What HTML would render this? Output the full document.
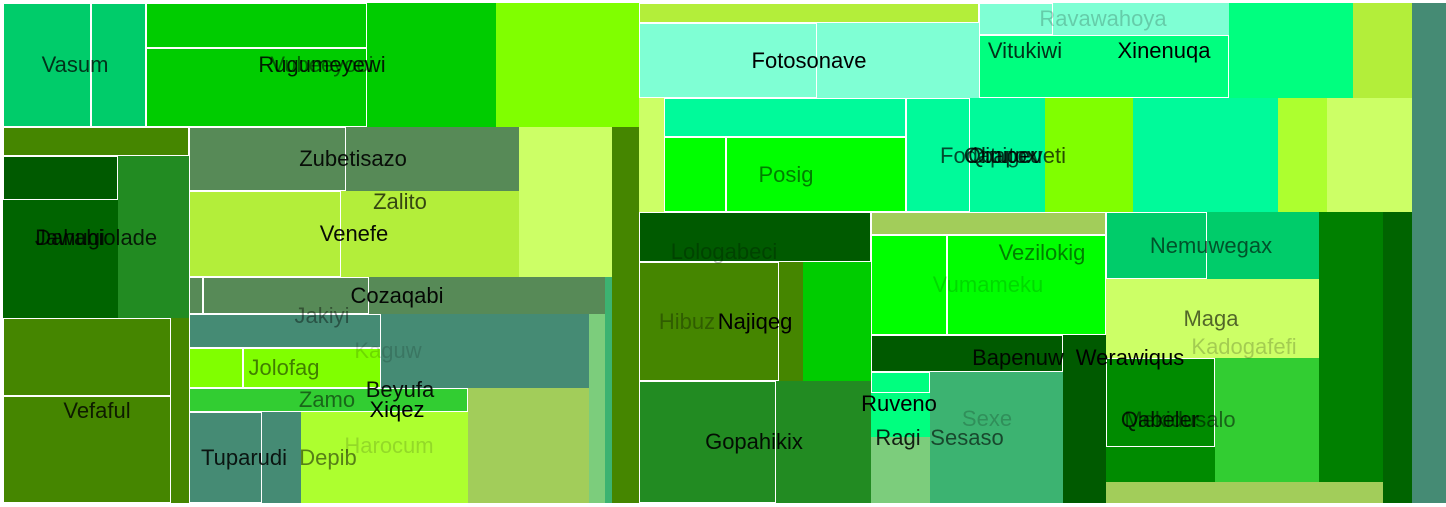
<!DOCTYPE html>
<html><head><meta charset="utf-8"><style>
html,body{margin:0;padding:0;background:#fff;width:1446px;height:507px;overflow:hidden}
#c{position:relative;width:1446px;height:507px}
.r{position:absolute;box-sizing:border-box}
.b{border:1px solid #fff}
.t{position:absolute;font:22px "Liberation Sans",sans-serif;white-space:nowrap;transform:translate(-50%,-50%);line-height:1}
</style></head><body>
<div id="c"></div>
<script>
const rects=[
[3,3,91,127,'#00cc6a',1],[91,3,146,127,'#00cc6a',1],
[146,3,367,48,'#00cc00',1],[146,48,367,127,'#00cc00',1],[367,3,496,127,'#00cc00',0],[496,3,640,127,'#80ff00',0],
[3,127,189,156,'#458600',1],[3,156,118,200,'#005a00',1],[3,200,118,318,'#006400',0],[118,156,189,318,'#228b22',0],
[189,127,346,191,'#578a57',1],[346,127,519,191,'#578a57',0],
[189,191,341,277,'#b3ee3a',1],[341,191,519,277,'#b3ee3a',0],[519,127,612,277,'#ccff66',0],[612,127,640,503,'#458600',0],
[3,318,171,396,'#458600',1],[3,396,171,503,'#458600',1],[171,318,189,503,'#458600',0],
[189,277,203,314,'#578a57',1],[203,277,369,314,'#578a57',1],[369,277,605,314,'#578a57',0],[605,277,612,503,'#3cb371',0],
[189,314,381,348,'#458b74',1],[381,314,589,388,'#458b74',0],[589,314,605,503,'#7ccd7c',0],
[189,348,243,388,'#80ff00',1],[243,348,381,388,'#80ff00',1],
[189,388,468,412,'#32cd32',1],
[189,412,262,503,'#458b74',1],[262,412,301,503,'#458b74',0],[301,412,468,503,'#adff2f',0],[468,388,589,503,'#a2cd5a',0],
[639,3,979,23,'#b3ee3a',1],[639,23,817,98,'#7fffd4',1],[817,23,979,98,'#7fffd4',0],
[979,3,1053,35,'#7fffd4',1],[1053,3,1229,35,'#7fffd4',0],[979,35,1229,98,'#00ff7f',1],[1229,3,1353,98,'#00ff7f',0],[1353,3,1412,98,'#b3ee3a',0],[1412,3,1446,503,'#458b74',0],
[639,98,664,212,'#ccff66',0],[664,98,906,137,'#00fa9a',1],[664,137,726,212,'#00ff00',1],[726,137,906,212,'#00ff00',1],
[906,98,970,212,'#00fa9a',1],[970,98,1045,212,'#00fa9a',0],[1045,98,1133,212,'#80ff00',0],[1133,98,1278,212,'#00fa9a',0],[1278,98,1327,212,'#adff2f',0],[1327,98,1412,212,'#ccff66',0],
[639,212,871,262,'#005a00',1],[871,212,1106,235,'#a2cd5a',1],[871,235,947,335,'#00ff00',1],[947,235,1106,335,'#00ff00',1],
[1106,212,1207,279,'#00cc6a',1],[1207,212,1319,279,'#00cc6a',0],[1319,212,1383,482,'#008000',0],[1383,212,1412,503,'#006400',0],
[639,262,779,381,'#458600',1],[779,262,803,381,'#458600',0],[803,262,871,381,'#00cc00',0],
[639,381,776,503,'#228b22',1],[776,381,871,503,'#228b22',0],
[871,335,1063,372,'#005a00',1],[1063,335,1106,503,'#005a00',0],
[871,372,930,393,'#00ff7f',1],[871,393,930,437,'#00ff7f',0],[871,437,930,503,'#7ccd7c',0],[930,372,1063,503,'#3cb371',0],
[1106,279,1167,358,'#ccff66',0],[1167,279,1319,358,'#ccff66',0],
[1106,358,1215,447,'#008b00',1],[1106,447,1215,482,'#008b00',0],[1215,358,1319,482,'#32cd32',0],[1106,482,1383,503,'#a2cd5a',0]
];
const labels=[
['Vasum',75,65,.75],['Vubeeyooi',322,65,.5],['Rugumeyewi',322,65,.85],['Zubetisazo',353,159,.9],['Zalito',400,202,.7],['Venefe',354,234,.95],
['Jawahiolade',96,238,.8],['Dahugi',70,238,.8],['Cozaqabi',397,296,.95],['Jakiyi',322,316,.4],['Kaguw',388,351,.15],['Jolofag',284,368,.5],
['Beyufa',400,390,.9],['Zamo',327,400,.5],['Xiqez',397,410,1],['Vefaful',97,411,.8],['Harocum',389,446,.15],['Tuparudi',244,458,.85],['Depib',328,458,.5],
['Fotosonave',809,61,1],['Ravawahoya',1103,19,.2],['Vitukiwi',1025,51,.8],['Xinenuqa',1164,51,1],['Posig',786,175,.5],
['Fodapigeveti',1003,156,.7],['Qitutox',1003,156,.8],['Obapeu',1003,156,.8],['Lologabeci',724,252,.25],['Vezilokig',1042,253,.5],['Nemuwegax',1211,246,.6],
['Vumameku',988,285,.15],['Maga',1211,319,.6],['Hibuz',687,322,.3],['Najiqeg',755,322,1],['Kadogafefi',1244,347,.2],['Bapenuw',1018,358,.9],['Werawiqus',1130,358,1],
['Ruveno',899,404,1],['Sexe',987,419,.2],['Mekidusalo',1180,420,.5],['Qabeler',1160,420,.8],['Gopahikix',754,442,.9],['Ragi',898,438,.85],['Sesaso',967,438,.6]
];
const c=document.getElementById('c');
rects.forEach((r,i)=>{
 const d=document.createElement('div');
 d.className='r'+(r[5]?' b':'');
 d.style.cssText=`left:${r[0]}px;top:${r[1]}px;width:${r[2]-r[0]}px;height:${r[3]-r[1]}px;background:${r[4]}`;
 
 
 c.appendChild(d);
});
labels.forEach(l=>{
 const s=document.createElement('div');
 s.className='t';
 s.textContent=l[0];
 s.style.cssText=`left:${l[1]}px;top:${l[2]}px;color:rgba(0,0,0,${l[3]})`;
 
 
 c.appendChild(s);
});
</script>
</body></html>
